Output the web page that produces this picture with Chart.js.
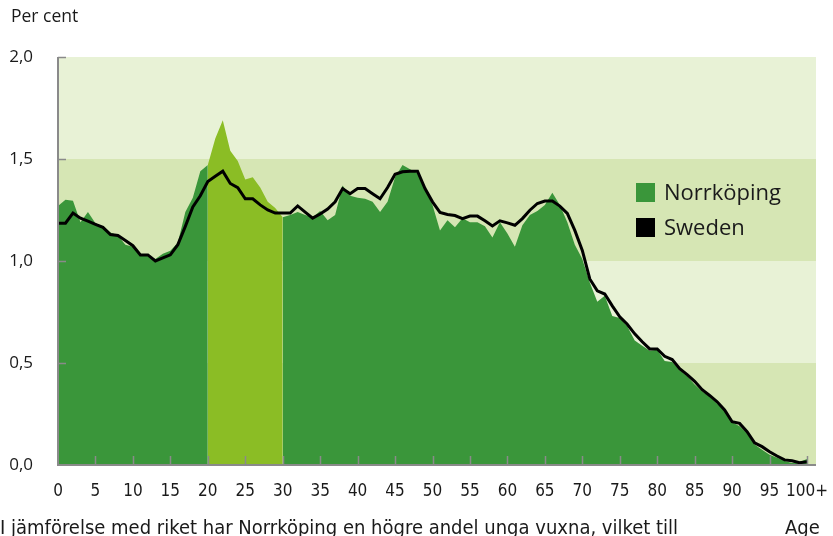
<!DOCTYPE html>
<html>
<head>
<meta charset="utf-8">
<script src="https://cdn.jsdelivr.net/npm/chart.js@4.4.1/dist/chart.umd.min.js"></script>
<style>
    html, body { margin: 0; padding: 0; background: #fff; }
    #wrap { position: relative; width: 833px; height: 536px; overflow: hidden; font-family: 'Open Sans', sans-serif; color: #1a1a1a; }
    #chart { position: absolute; left: 0; top: 0; }
    .txt { position: absolute; white-space: nowrap; }
    #unit { left: 11px; top: 3px; font-size: 17.5px; }
    #legend { left: 636px; top: 174px; font-size: 22px; line-height: 35px; }
    #legend .sw { display: inline-block; width: 19px; height: 19px; margin-right: 9px; vertical-align: -2px; }
    #caption { left: 0; top: 515px; font-family: 'DejaVu Sans Condensed', sans-serif; font-size: 20px; }
    #agelbl { left: 785px; top: 515px; font-family: 'DejaVu Sans Condensed', sans-serif; font-size: 20px; }
</style>
</head>
<body>
<div id="wrap">
    <canvas id="chart" width="833" height="536"></canvas>
    <div class="txt" id="unit">Per cent</div>
    <div class="txt" id="legend">
        <div><span class="sw" style="background:#3a963a"></span>Norrköping</div>
        <div><span class="sw" style="background:#000"></span>Sweden</div>
    </div>
    <div class="txt" id="caption">I jämförelse med riket har Norrköping en högre andel unga vuxna, vilket till</div>
    <div class="txt" id="agelbl">Age</div>
</div>
<script>
// ages 0..100 (100 = 100+)
const ages = Array.from({ length: 101 }, (_, i) => i);

const norrkoping = [
    1.27, 1.30, 1.295, 1.19, 1.24, 1.185, 1.17, 1.14, 1.125, 1.08,
    1.07, 1.035, 1.025, 1.01, 1.035, 1.05, 1.09, 1.24, 1.31, 1.44,
    1.47, 1.60, 1.69, 1.54, 1.49, 1.40, 1.41, 1.36, 1.29, 1.26,
    1.215, 1.225, 1.24, 1.225, 1.215, 1.245, 1.20, 1.225, 1.37, 1.32,
    1.31, 1.305, 1.29, 1.24, 1.29, 1.41, 1.47, 1.45, 1.43, 1.355,
    1.275, 1.15, 1.20, 1.165, 1.21, 1.19, 1.19, 1.17, 1.115, 1.19,
    1.135, 1.07, 1.175, 1.225, 1.245, 1.275, 1.335, 1.275, 1.19, 1.08,
    1.01, 0.895, 0.80, 0.83, 0.73, 0.72, 0.68, 0.61, 0.585, 0.56,
    0.565, 0.51, 0.505, 0.465, 0.435, 0.395, 0.36, 0.335, 0.30, 0.27,
    0.21, 0.19, 0.155, 0.10, 0.075, 0.05, 0.035, 0.02, 0.01, 0.015,
    0.03
];

const sweden = [
    1.185, 1.185, 1.235, 1.21, 1.195, 1.18, 1.165, 1.13, 1.125, 1.10,
    1.075, 1.03, 1.03, 1.00, 1.015, 1.03, 1.08, 1.17, 1.265, 1.32,
    1.39, 1.415, 1.44, 1.38, 1.36, 1.305, 1.305, 1.275, 1.25, 1.235,
    1.235, 1.235, 1.27, 1.24, 1.21, 1.23, 1.255, 1.29, 1.355, 1.33,
    1.355, 1.355, 1.33, 1.305, 1.36, 1.425, 1.437, 1.44, 1.44, 1.355,
    1.29, 1.238, 1.228, 1.223, 1.208, 1.22, 1.22, 1.197, 1.172, 1.197,
    1.187, 1.175, 1.208, 1.249, 1.282, 1.294, 1.294, 1.269, 1.233, 1.15,
    1.052, 0.912, 0.854, 0.838, 0.78, 0.726, 0.69, 0.643, 0.604, 0.569,
    0.569, 0.533, 0.517, 0.472, 0.443, 0.41, 0.369, 0.341, 0.31, 0.27,
    0.212, 0.204, 0.163, 0.109, 0.09, 0.065, 0.044, 0.025, 0.021, 0.011,
    0.016
];

// young adults highlighted
const highlightFrom = 20;
const highlightTo = 30;

const yTicks = [0, 0.5, 1.0, 1.5, 2.0];

const darkGreen = '#3a963a';
const lightGreen = '#8bbd25';
const bandLight = '#e8f2d6';
const bandDark = '#d6e6b4';
const axisGrey = '#8a8a8a';

function toPoints(values) {
    return ages.map((a, i) => ({ x: a, y: values[i] }));
}

const backgroundPlugin = {
    id: 'bands',
    beforeDraw(chart) {
        const { ctx, chartArea } = chart;
        const y = chart.scales.y;
        ctx.save();
        for (let i = 0; i < yTicks.length - 1; i++) {
            const top = y.getPixelForValue(yTicks[i + 1]);
            const bottom = y.getPixelForValue(yTicks[i]);
            ctx.fillStyle = i % 2 === 0 ? bandDark : bandLight;
            ctx.fillRect(chartArea.left, top, chartArea.right - chartArea.left, bottom - top);
        }
        ctx.restore();
    },
    afterDatasetsDraw(chart) {
        const { ctx, chartArea } = chart;
        const x = chart.scales.x;
        const y = chart.scales.y;
        ctx.save();
        ctx.strokeStyle = axisGrey;
        ctx.lineWidth = 2;
        ctx.beginPath();
        ctx.moveTo(chartArea.left, chartArea.top);
        ctx.lineTo(chartArea.left, chartArea.bottom);
        ctx.lineTo(chartArea.right, chartArea.bottom);
        ctx.stroke();
        ctx.lineWidth = 1.5;
        ctx.beginPath();
        yTicks.slice(1).forEach(v => {
            const py = Math.round(y.getPixelForValue(v)) + 0.5;
            ctx.moveTo(chartArea.left, py);
            ctx.lineTo(chartArea.left + 8, py);
        });
        for (let a = 5; a <= 100; a += 5) {
            const px = Math.round(x.getPixelForValue(a)) + 0.5;
            ctx.moveTo(px, chartArea.bottom);
            ctx.lineTo(px, chartArea.bottom - 9);
        }
        ctx.stroke();
        ctx.restore();
    }
};

const ctx = document.getElementById('chart').getContext('2d');
new Chart(ctx, {
    type: 'line',
    data: {
        datasets: [{
            label: 'Sweden',
            data: toPoints(sweden),
            borderColor: '#000',
            borderWidth: 3,
            pointRadius: 0,
            fill: false,
            order: 0
        }, {
            label: 'Norrköping',
            data: toPoints(norrkoping),
            borderWidth: 0,
            borderColor: 'rgba(0,0,0,0)',
            backgroundColor: darkGreen,
            pointRadius: 0,
            fill: 'origin',
            order: 1,
            segment: {
                backgroundColor: c => (c.p0.parsed.x >= highlightFrom && c.p0.parsed.x < highlightTo) ? lightGreen : darkGreen
            }
        }]
    },
    options: {
        responsive: false,
        animation: false,
        layout: { padding: { top: 57, right: 17, left: 0, bottom: 0 } },
        plugins: {
            legend: { display: false },
            tooltip: { enabled: false }
        },
        scales: {
            x: {
                type: 'linear',
                min: 0,
                max: 101.2,
                grid: { display: false },
                border: { display: false },
                afterFit: s => { s.height = 71; s.paddingLeft = 0; s.paddingRight = 0; },
                ticks: {
                    stepSize: 5,
                    includeBounds: false,
                    autoSkip: false,
                    maxRotation: 0,
                    padding: 8,
                    color: '#1a1a1a',
                    font: { family: "'DejaVu Sans Condensed', sans-serif", size: 17 },
                    callback: v => v === 100 ? '100+' : v
                }
            },
            y: {
                min: 0,
                max: 2,
                grid: { display: false },
                border: { display: false },
                afterFit: s => { s.width = 58; },
                ticks: {
                    stepSize: 0.5,
                    padding: 17,
                    color: '#1a1a1a',
                    font: { family: "'Open Sans', sans-serif", size: 17 },
                    callback: v => v.toFixed(1).replace('.', ',')
                }
            }
        }
    },
    plugins: [backgroundPlugin]
});
</script>
</body>
</html>
